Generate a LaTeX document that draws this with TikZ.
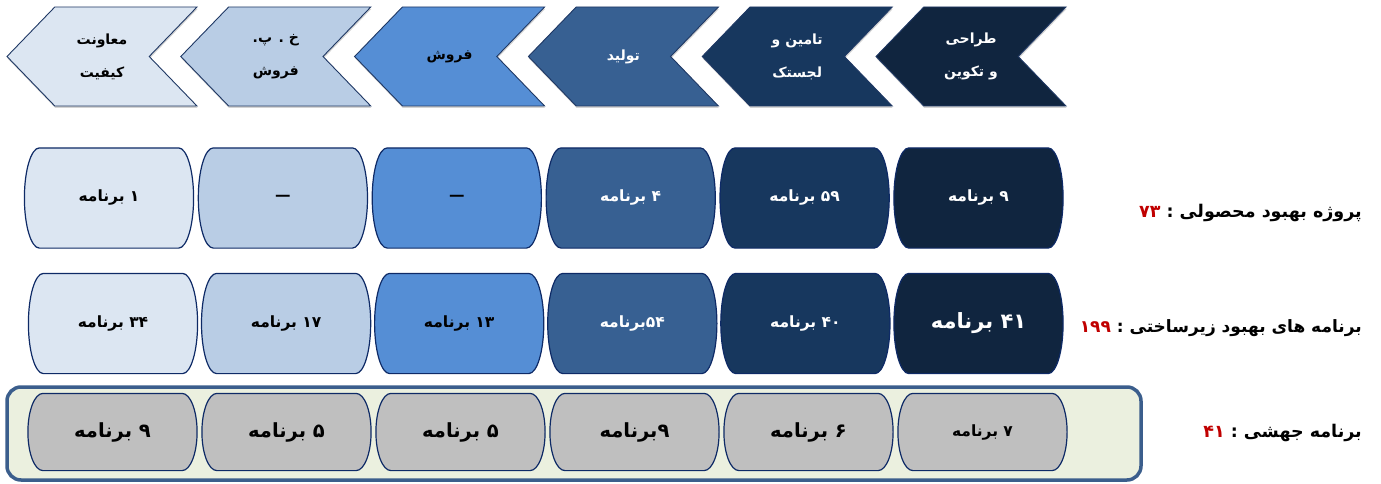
\documentclass[tikz,border=0pt]{standalone}
\usepackage{fontspec}
\usetikzlibrary{shapes.symbols,shadows,backgrounds}
\TeXXeTstate=1
\newfontfamily\fa[Script=Arabic]{DejaVu Sans}
\newcommand{\rl}[1]{\beginR#1\endR}

\definecolor{c1}{HTML}{DCE6F2}
\definecolor{c2}{HTML}{B9CDE5}
\definecolor{c3}{HTML}{558ED5}
\definecolor{c4}{HTML}{376092}
\definecolor{c5}{HTML}{17375E}
\definecolor{c6}{HTML}{10253F}
\definecolor{navyline}{HTML}{1F3864}
\definecolor{boxline}{HTML}{0E2A66}
\definecolor{numred}{HTML}{C00000}
\definecolor{jumpgray}{HTML}{BFBFBF}
\definecolor{framefill}{HTML}{EBF0DF}
\definecolor{frameline}{HTML}{3B5E8C}

% box with half-ellipse ends
\makeatletter
\pgfdeclareshape{capsule}{%
  \inheritsavedanchors[from=rectangle]%
  \inheritanchorborder[from=rectangle]%
  \inheritanchor[from=rectangle]{center}%
  \inheritanchor[from=rectangle]{north}%
  \inheritanchor[from=rectangle]{south}%
  \inheritanchor[from=rectangle]{east}%
  \inheritanchor[from=rectangle]{west}%
  \backgroundpath{%
    \southwest\edef\capL{\the\pgf@x}\edef\capB{\the\pgf@y}%
    \northeast\edef\capR{\the\pgf@x}\edef\capT{\the\pgf@y}%
    \pgfmathsetmacro\capry{(\capT-\capB)/2}%
    \pgfmathsetmacro\capli{\capL+15}%
    \pgfmathsetmacro\capri{\capR-15}%
    \pgfpathmoveto{\pgfpoint{\capli pt}{\capT}}%
    \pgfpathlineto{\pgfpoint{\capri pt}{\capT}}%
    \pgfpatharc{90}{-90}{15pt and \capry pt}%
    \pgfpathlineto{\pgfpoint{\capli pt}{\capB}}%
    \pgfpatharc{270}{90}{15pt and \capry pt}%
    \pgfpathclose
  }%
}
\makeatother

\tikzset{
  stage/.style={signal, signal to=west, signal from=east, signal pointer angle=92,
    minimum width=190pt, minimum height=99pt, inner sep=0pt, draw=navyline, line width=0.9pt,
    align=center, font=\fa\bfseries\fontsize{14}{33}\selectfont,
    drop shadow={shadow xshift=0.5pt, shadow yshift=-2pt, opacity=0.35}},
  prog/.style={capsule, minimum width=168pt, minimum height=99pt, inner sep=0pt,
    draw=boxline, line width=1.2pt, font=\fa\bfseries\fontsize{15.5}{18}\selectfont},
  jumpbox/.style={prog, minimum height=76pt, fill=jumpgray, font=\fa\bfseries\fontsize{19.5}{22}\selectfont},
  jumpframe/.style={rectangle, rounded corners=14pt, draw=frameline, line width=3.5pt,
    fill=framefill, minimum width=1134pt, minimum height=93pt},
  rowlabel/.style={anchor=east, inner sep=0pt, font=\fa\bfseries\fontsize{17.5}{20}\selectfont},
}

\begin{document}
\begin{tikzpicture}[x=1pt,y=1pt]
\useasboundingbox (0,0) rectangle (1381,483);
% stages
\node[stage,fill=c1] (s1) at (102,426.5) {\rl{معاونت}\\\rl{کیفیت}};
\node[stage,fill=c2] (s2) at (275.8,426.5) {\rl{خ . پ.}\\\rl{فروش}};
\node[stage,fill=c3] (s3) at (449.6,426.5) {\rl{فروش}};
\node[stage,fill=c4,text=white] (s4) at (623.4,426.5) {\rl{تولید}};
\node[stage,fill=c5,text=white] (s5) at (797.2,426.5) {\rl{تامین و}\\\rl{لجستک}};
\node[stage,fill=c6,text=white] (s6) at (971,426.5) {\rl{طراحی}\\\rl{و تکوین}};
% product improvement
\node[prog,fill=c1] (p1) at (109,285) {\rl{۱ برنامه}};
\node[prog,fill=c2] (p2) at (282.9,285) {—};
\node[prog,fill=c3] (p3) at (456.8,285) {—};
\node[prog,fill=c4,text=white] (p4) at (630.7,285) {\rl{۴ برنامه}};
\node[prog,fill=c5,text=white] (p5) at (804.6,285) {\rl{۵۹ برنامه}};
\node[prog,fill=c6,text=white] (p6) at (978.5,285) {\rl{۹ برنامه}};
\node[rowlabel] (lp) at (1362,270) {\textcolor{numred}{۷۳}~\rl{پروژه بهبود محصولی :}};
% infrastructure
\node[prog,fill=c1] (i1) at (113,159.5) {\rl{۳۴ برنامه}};
\node[prog,fill=c2] (i2) at (286.1,159.5) {\rl{۱۷ برنامه}};
\node[prog,fill=c3] (i3) at (459.2,159.5) {\rl{۱۳ برنامه}};
\node[prog,fill=c4,text=white] (i4) at (632.3,159.5) {\rl{۵۴برنامه}};
\node[prog,fill=c5,text=white] (i5) at (805.4,159.5) {\rl{۴۰ برنامه}};
\node[prog,fill=c6,text=white,font=\fa\bfseries\fontsize{21}{24}\selectfont] (i6) at (978.5,159.5) {\rl{۴۱ برنامه}};
\node[rowlabel,font=\fa\bfseries\fontsize{17}{20}\selectfont] (li) at (1362,155) {\textcolor{numred}{۱۹۹}~\rl{برنامه های بهبود زیرساختی :}};
% jump programmes
\node[jumpframe] (frame) at (574,49.5) {};
\node[jumpbox] (j1) at (112.5,51) {\rl{۹ برنامه}};
\node[jumpbox] (j2) at (286.5,51) {\rl{۵ برنامه}};
\node[jumpbox] (j3) at (460.5,51) {\rl{۵ برنامه}};
\node[jumpbox] (j4) at (634.5,51) {\rl{۹برنامه}};
\node[jumpbox] (j5) at (808.5,51) {\rl{۶ برنامه}};
\node[jumpbox,font=\fa\bfseries\fontsize{15.5}{18}\selectfont] (j6) at (982.5,51) {\rl{۷ برنامه}};
\node[rowlabel] (lj) at (1362,50) {\textcolor{numred}{۴۱}~\rl{برنامه جهشی :}};
\end{tikzpicture}
\end{document}
